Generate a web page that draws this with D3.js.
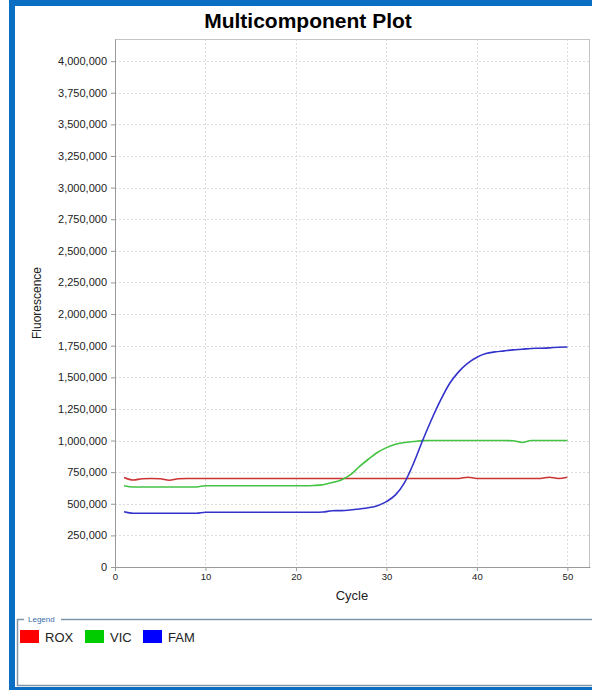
<!DOCTYPE html>
<html>
<head>
<meta charset="utf-8">
<script src="https://cdn.jsdelivr.net/npm/d3@7"></script>
<style>
  body { margin: 0; background: #fff; }
  svg { display: block; font-family: "Liberation Sans", Arial, sans-serif; }
</style>
</head>
<body>
<div id="wrapper"></div>
<script>
// data
const cycles = d3.range(1, 51)
const roxValues = [
  708000, 688000, 698000, 700000, 698000, 686000, 698000, 700000, 700000, 700000,
  700000, 700000, 700000, 700000, 700000, 700000, 700000, 700000, 700000, 700000,
  700000, 700000, 700000, 700000, 700000, 700000, 700000, 700000, 700000, 700000,
  700000, 700000, 700000, 700000, 700000, 700000, 700000, 700000, 710000, 700000,
  700000, 700000, 700000, 700000, 700000, 700000, 700000, 710000, 700000, 710000,
]
const vicValues = [
  643000, 633000, 633000, 633000, 633000, 633000, 633000, 633000, 633000, 643000,
  643000, 643000, 643000, 643000, 643000, 643000, 643000, 643000, 643000, 643000,
  643000, 645000, 651000, 668000, 688000, 728000, 793000, 852000, 905000, 944000,
  971000, 984000, 992000, 999000, 1000000, 1000000, 1000000, 1000000, 1000000, 1000000,
  1000000, 1000000, 1000000, 998000, 985000, 1000000, 1000000, 1000000, 1000000, 1000000,
]
const famValues = [
  437000, 425000, 425000, 425000, 425000, 425000, 425000, 425000, 425000, 433000,
  433000, 433000, 433000, 433000, 433000, 433000, 433000, 433000, 433000, 433000,
  433000, 433000, 435000, 445000, 446000, 451000, 459000, 469000, 485000, 517000,
  570000, 667000, 820000, 1000000, 1168000, 1321000, 1453000, 1545000, 1612000, 1659000,
  1688000, 1701000, 1709000, 1717000, 1722000, 1728000, 1730000, 1733000, 1738000, 1740000,
]
const seriesNames = ["ROX", "VIC", "FAM"]
const swatchColors = ["#ff0000", "#00cc00", "#0000ff"]
const lineColors = ["#cc3333", "#44c244", "#3333cc"]
const yTicks = d3.range(0, 4000001, 250000)
const xTicks = [0, 10, 20, 30, 40, 50]

const series = [roxValues, vicValues, famValues].map((values, i) => ({
  name: seriesNames[i],
  values: values.map((v, j) => ({ cycle: cycles[j], value: v })),
}))

const xAccessor = d => d.cycle
const yAccessor = d => d.value

// dimensions
const width = 592
const height = 690
const margins = { top: 39, right: 2, bottom: 123, left: 115 }
const boundedWidth = width - margins.left - margins.right
const boundedHeight = height - margins.top - margins.bottom

const svg = d3.select("#wrapper")
  .append("svg")
  .attr("width", width)
  .attr("height", height)

// blue window frame
svg.append("rect").attr("x", 10).attr("y", 0).attr("width", width - 10).attr("height", 6).attr("fill", "#0a6fc2")
svg.append("rect").attr("x", 9).attr("y", 0).attr("width", 6).attr("height", height).attr("fill", "#0a6fc2")
svg.append("rect").attr("x", 9).attr("y", 687).attr("width", width - 9).attr("height", 3).attr("fill", "#0a6fc2")

// title
svg.append("text")
  .attr("x", 308)
  .attr("y", 28)
  .attr("text-anchor", "middle")
  .style("font-size", "21px")
  .style("font-weight", "bold")
  .attr("fill", "#000")
  .text("Multicomponent Plot")

const bounds = svg.append("g")
  .attr("transform", `translate(${margins.left},${margins.top})`)

// scales
const xScale = d3.scaleLinear()
  .domain([0, 52.5])
  .range([0, boundedWidth])

const yScale = d3.scaleLinear()
  .domain([0, 4175000])
  .range([boundedHeight, 0])

// grid
bounds.append("g")
  .selectAll("line")
  .data(yTicks.slice(1))
  .join("line")
  .attr("x1", 0)
  .attr("x2", boundedWidth)
  .attr("y1", d => Math.round(yScale(d)) + 0.5)
  .attr("y2", d => Math.round(yScale(d)) + 0.5)
  .attr("stroke", "#dcdcdc")
  .attr("stroke-dasharray", "2,2")

bounds.append("g")
  .selectAll("line")
  .data(xTicks.slice(1))
  .join("line")
  .attr("x1", d => Math.round(xScale(d)) + 0.5)
  .attr("x2", d => Math.round(xScale(d)) + 0.5)
  .attr("y1", 0)
  .attr("y2", boundedHeight)
  .attr("stroke", "#dcdcdc")
  .attr("stroke-dasharray", "2,2")

// plot frame
bounds.append("rect")
  .attr("x", 0.5)
  .attr("y", 0.5)
  .attr("width", boundedWidth - 1)
  .attr("height", boundedHeight)
  .attr("fill", "none")
  .attr("stroke", "#c4c4c4")

// lines
const lineGenerator = d3.line()
  .x(d => xScale(xAccessor(d)))
  .y(d => yScale(yAccessor(d)))
  .curve(d3.curveMonotoneX)

bounds.append("g")
  .selectAll("path")
  .data(series)
  .join("path")
  .attr("d", d => lineGenerator(d.values))
  .attr("fill", "none")
  .attr("stroke", (d, i) => lineColors[i])
  .attr("stroke-width", 1.6)

// axes
const yAxisGenerator = d3.axisLeft(yScale)
  .tickValues(yTicks)
  .tickSize(4)
  .tickSizeOuter(0)
  .tickFormat(d3.format(",d"))

const yAxis = bounds.append("g").call(yAxisGenerator)
yAxis.select(".domain").attr("stroke", "#999")
yAxis.selectAll(".tick line").attr("stroke", "#999")
yAxis.selectAll(".tick text")
  .attr("fill", "#222")
  .attr("x", -8)
  .style("font-size", "11px")
  .style("font-family", "'Liberation Sans', Arial, sans-serif")

const xAxisGenerator = d3.axisBottom(xScale)
  .tickValues(xTicks)
  .tickSize(4)
  .tickSizeOuter(0)

const xAxis = bounds.append("g")
  .attr("transform", `translate(0,${boundedHeight})`)
  .call(xAxisGenerator)
xAxis.select(".domain").attr("stroke", "#999")
xAxis.selectAll(".tick line").attr("stroke", "#999")
xAxis.selectAll(".tick text")
  .attr("fill", "#222")
  .attr("y", 6)
  .style("font-size", "9.5px")
  .style("font-family", "'Liberation Sans', Arial, sans-serif")

// axis labels
svg.append("text")
  .attr("transform", "translate(41,303) rotate(-90)")
  .attr("text-anchor", "middle")
  .style("font-size", "12px")
  .attr("fill", "#222")
  .text("Fluorescence")

svg.append("text")
  .attr("x", 352)
  .attr("y", 600)
  .attr("text-anchor", "middle")
  .style("font-size", "13px")
  .attr("fill", "#222")
  .text("Cycle")

// legend box
const legend = svg.append("g")
legend.append("path")
  .attr("d", `M24,619.5 H17.5 V685.5 H${width} M61,619.5 H${width}`)
  .attr("fill", "none")
  .attr("stroke", "#8096a8")
  .attr("stroke-width", 1.5)

legend.append("text")
  .attr("x", 28)
  .attr("y", 622)
  .style("font-size", "8px")
  .attr("fill", "#3a6ea8")
  .text("Legend")

const legendX = [20, 85, 143]
const legendItems = legend.selectAll("g.item")
  .data(seriesNames)
  .join("g")
  .attr("class", "item")
  .attr("transform", (d, i) => `translate(${legendX[i]},630)`)

legendItems.append("rect")
  .attr("width", 19)
  .attr("height", 13)
  .attr("fill", (d, i) => swatchColors[i])

legendItems.append("text")
  .attr("x", 25)
  .attr("y", 11.5)
  .style("font-size", "13px")
  .attr("fill", "#222")
  .text(d => d)
</script>
</body>
</html>
